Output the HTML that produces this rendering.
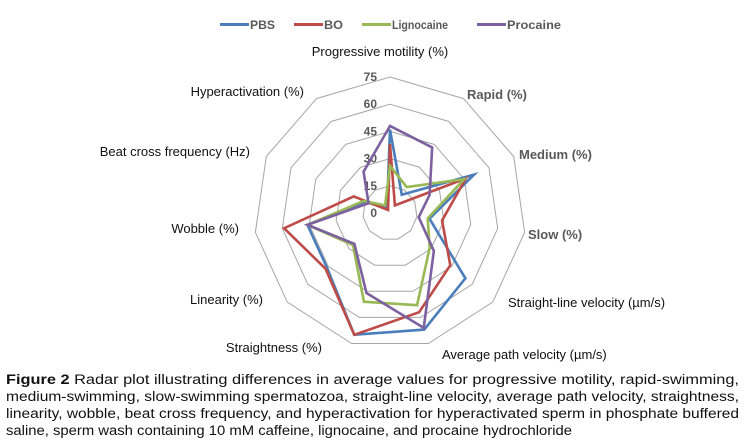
<!DOCTYPE html>
<html><head><meta charset="utf-8"><style>
body{margin:0;background:#fff;width:744px;height:443px;overflow:hidden}
svg{display:block;font-family:"Liberation Sans",sans-serif}
</style></head><body>
<svg id="chart" width="744" height="443" viewBox="0 0 744 443">
<g id="legend"></g>
<g id="grid"></g>
<g id="ticks"></g>
<g id="series"></g>
<g id="labels"></g>
<g font-size="13.5" fill="#111" style="font-family:'Liberation Sans Narrow','Liberation Sans',sans-serif">
<text x="6" y="384" textLength="733" lengthAdjust="spacingAndGlyphs"><tspan font-weight="bold">Figure 2</tspan> Radar plot illustrating differences in average values for progressive motility, rapid-swimming,</text>
<text x="6" y="401" textLength="733" lengthAdjust="spacingAndGlyphs">medium-swimming, slow-swimming spermatozoa, straight-line velocity, average path velocity, straightness,</text>
<text x="6" y="418" textLength="733" lengthAdjust="spacingAndGlyphs">linearity, wobble, beat cross frequency, and hyperactivation for hyperactivated sperm in phosphate buffered</text>
<text x="6" y="435" textLength="566" lengthAdjust="spacingAndGlyphs">saline, sperm wash containing 10 mM caffeine, lignocaine, and procaine hydrochloride</text>
</g>
</svg>
<script>
const categories=["Progressive motility (%)","Rapid (%)","Medium (%)","Slow (%)","Straight-line velocity (µm/s)","Average path velocity (µm/s)","Straightness (%)","Linearity (%)","Wobble (%)","Beat cross frequency (Hz)","Hyperactivation (%)"];
const seriesNames=["PBS","BO","Lignocaine","Procaine"];
const pbsValues=[46,12,51,22,55,67,70,46,46,15,3];
const boValues=[38,5,46,29,44,57,70,47,59,22,2];
const lignocaineValues=[26,17,45,21,29,53,51,27,46,16,5];
const procaineValues=[48,43,24,16,32,66,46,26,46,13,27];
const tickValues=[0,15,30,45,60,75];
const seriesColors=["#4a7ebb","#be4b48","#98b954","#7d60a0"];
const NS="http://www.w3.org/2000/svg";
const cx=390,cy=213,R=136,maxV=75;
const N=categories.length;
function ang(i){return -Math.PI/2+i*2*Math.PI/N;}
function pt(i,v){const r=v/maxV*R;return [cx+r*Math.cos(ang(i)),cy+r*Math.sin(ang(i))];}
function mk(tag,attrs,parent){const e=document.createElementNS(NS,tag);for(const k in attrs)e.setAttribute(k,attrs[k]);parent.appendChild(e);return e;}
const grid=document.getElementById('grid');
tickValues.forEach(t=>{if(t===0)return;
 const p=mk('polygon',{points:categories.map((c,i)=>pt(i,t).join(',')).join(' '),fill:'none',stroke:'#a6a6a6','stroke-width':1},grid);
 
 
});
const ticks=document.getElementById('ticks');
tickValues.forEach(t=>{const e=mk('text',{x:cx-13,y:cy-t/maxV*R+4,'text-anchor':'end','font-size':12,'font-weight':'bold',fill:'#595959'},ticks);e.textContent=t;
 
 
});
const allVals=[pbsValues,boValues,lignocaineValues,procaineValues];
const sg=document.getElementById('series');
allVals.forEach((vals,s)=>{
 const pl=mk('polygon',{points:vals.map((v,i)=>pt(i,v).join(',')).join(' '),fill:'none',stroke:seriesColors[s],'stroke-width':2.6,'stroke-linejoin':'miter'},sg);
 
 
});
const labelPos=[[380,56,'middle',0],[467,99,'start',1],[519,159,'start',1],[528,239,'start',1],[508,307,'start',0],[442,359,'start',0],[322,352,'end',0],[263,304,'end',0],[239,233,'end',0],[250,156,'end',0],[304,96,'end',0]];
const lg=document.getElementById('labels');
categories.forEach((c,i)=>{const p=labelPos[i];
 const e=mk('text',{x:p[0],y:p[1],'text-anchor':p[2],'font-size':13,fill:p[3]?'#595959':'#111','font-weight':p[3]?'bold':'normal'},lg);e.textContent=c;
 
 
});
const legend=document.getElementById('legend');
const legX=[220,294,362,477];
const legW=[25,19,56,54];
seriesNames.forEach((n,s)=>{
 const g=mk('g',{},legend);
 
 
 mk('line',{x1:legX[s],x2:legX[s]+29,y1:24.5,y2:24.5,stroke:seriesColors[s],'stroke-width':3},g);
 const t=mk('text',{x:legX[s]+30,y:29,'font-size':12,'font-weight':'bold',fill:'#595959',textLength:legW[s],lengthAdjust:'spacingAndGlyphs'},g);t.textContent=n;
});
</script>
</body></html>
